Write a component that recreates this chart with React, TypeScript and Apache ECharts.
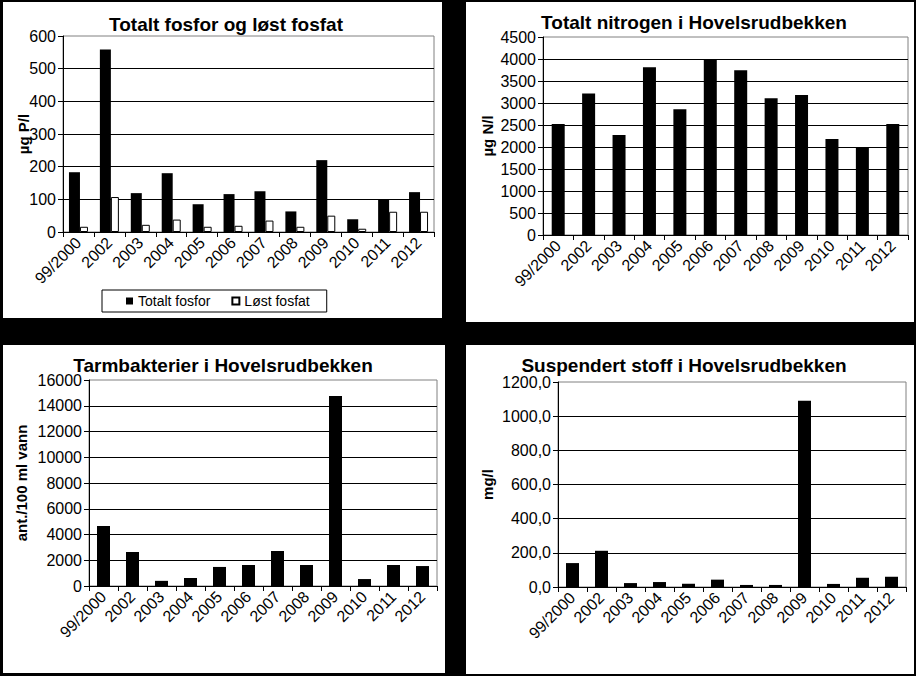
import React, { useEffect, useRef } from "react";
import * as echarts from "echarts";

// ---- data ----
const categories = ["99/2000", "2002", "2003", "2004", "2005", "2006", "2007", "2008", "2009", "2010", "2011", "2012"];
const totaltFosfor = [183, 559, 119, 180, 85, 116, 125, 63, 220, 39, 99, 122];
const loestFosfat = [16, 107, 22, 38, 16, 19, 35, 16, 50, 10, 62, 62];
const totaltNitrogen = [2520, 3215, 2270, 3810, 2860, 3990, 3745, 3110, 3180, 2180, 1990, 2520];
const tarmbakterier = [4660, 2640, 400, 620, 1480, 1630, 2720, 1630, 14750, 540, 1630, 1550];
const suspendertStoff = [140, 212, 23, 29, 19, 43, 12, 12, 1090, 18, 54, 60];

const titles = [
  "Totalt fosfor og løst fosfat",
  "Totalt nitrogen i Hovelsrudbekken",
  "Tarmbakterier i Hovelsrudbekken",
  "Suspendert stoff i Hovelsrudbekken",
];
const yNames = ["µg P/l", "µg N/l", "ant./100 ml vann", "mg/l"];
const yMax = [600, 4500, 16000, 1200];
const yStep = [100, 500, 2000, 200];
const legendNames = ["Totalt fosfor", "Løst fosfat"];

const FONT = "'Liberation Sans', Arial, sans-serif";

export default function App() {
  const ref = useRef<HTMLDivElement>(null);

  useEffect(() => {
    if (!ref.current) return;
    const chart = echarts.init(ref.current, undefined, { renderer: "svg" });

    const panels = [
      { x: 3, y: 2, w: 439, h: 316 },
      { x: 466, y: 2, w: 448, h: 320 },
      { x: 3, y: 345, w: 442, h: 328 },
      { x: 466, y: 345, w: 448, h: 329 },
    ];
    const grids = [
      { left: 63, top: 36, width: 371, height: 196 },
      { left: 543, top: 37, width: 365, height: 198 },
      { left: 89, top: 380, width: 348, height: 206 },
      { left: 558, top: 382, width: 348, height: 205 },
    ];
    const titlePos = [
      { x: 226, y: 15 },
      { x: 694, y: 13 },
      { x: 223, y: 356 },
      { x: 684, y: 356 },
    ];
    const nameGaps = [32, 48, 60, 63];

    const xAxes = grids.map((_, i) => ({
      type: "category",
      gridIndex: i,
      data: categories,
      axisLine: { lineStyle: { color: "#000", width: 1 } },
      axisTick: { show: true, length: 5, lineStyle: { color: "#000" } },
      axisLabel: { interval: 0, rotate: 45, fontSize: 16, color: "#000", fontFamily: FONT, margin: 8 },
      splitLine: { show: false },
    }));

    const yAxes = grids.map((_, i) => ({
      type: "value",
      gridIndex: i,
      min: 0,
      max: yMax[i],
      interval: yStep[i],
      name: yNames[i],
      nameLocation: "middle",
      nameRotate: 90,
      nameGap: nameGaps[i],
      nameMoveOverlap: false,
      nameTextStyle: { fontSize: 15, fontWeight: "bold", color: "#000", fontFamily: FONT },
      axisLine: { show: true, lineStyle: { color: "#000", width: 1 } },
      axisTick: { show: true, length: 5, lineStyle: { color: "#000" } },
      axisLabel: {
        fontSize: 16,
        color: "#000",
        fontFamily: FONT,
        margin: 7,
        formatter: i === 3 ? (v: number) => v.toFixed(1).replace(".", ",") : (v: number) => String(v),
      },
      splitLine: { show: true, showMinLine: false, showMaxLine: false, lineStyle: { color: "#000", width: 1 } },
    }));

    const option: any = {
      animation: false,
      backgroundColor: "#000",
      textStyle: { fontFamily: FONT },
      graphic: panels.map((p) => ({
        type: "rect",
        z: -10,
        silent: true,
        shape: { x: p.x, y: p.y, width: p.w, height: p.h },
        style: { fill: "#fff" },
      })),
      title: titles.map((t, i) => ({
        text: t,
        left: titlePos[i].x,
        top: titlePos[i].y,
        textAlign: "center",
        padding: 0,
        textStyle: { fontSize: 19, fontWeight: "bold", color: "#000", fontFamily: FONT },
      })),
      legend: {
        data: legendNames,
        left: 102,
        top: 290,
        orient: "horizontal",
        padding: [4, 17, 4, 24],
        itemGap: 21,
        itemWidth: 7,
        itemHeight: 7,
        icon: "rect",
        borderColor: "#000",
        borderWidth: 1,
        backgroundColor: "#fff",
        textStyle: { fontSize: 14, color: "#000", fontFamily: FONT },
      },
      grid: grids.map((g) => ({
        ...g,
        show: true,
        borderColor: "#808080",
        borderWidth: 1,
        backgroundColor: "#fff",
        containLabel: false,
      })),
      xAxis: xAxes,
      yAxis: yAxes,
      series: [
        {
          name: legendNames[0],
          type: "bar",
          xAxisIndex: 0,
          yAxisIndex: 0,
          data: totaltFosfor,
          barWidth: 11,
          barGap: "0%",
          itemStyle: { color: "#000" },
        },
        {
          name: legendNames[1],
          type: "bar",
          xAxisIndex: 0,
          yAxisIndex: 0,
          data: loestFosfat,
          barWidth: 8,
          barGap: "0%",
          itemStyle: { color: "#fff", borderColor: "#000", borderWidth: 1 },
        },
        {
          name: "Totalt nitrogen",
          type: "bar",
          xAxisIndex: 1,
          yAxisIndex: 1,
          data: totaltNitrogen,
          barWidth: 13,
          itemStyle: { color: "#000" },
        },
        {
          name: "Tarmbakterier",
          type: "bar",
          xAxisIndex: 2,
          yAxisIndex: 2,
          data: tarmbakterier,
          barWidth: 13,
          itemStyle: { color: "#000" },
        },
        {
          name: "Suspendert stoff",
          type: "bar",
          xAxisIndex: 3,
          yAxisIndex: 3,
          data: suspendertStoff,
          barWidth: 13,
          itemStyle: { color: "#000" },
        },
      ],
    };

    chart.setOption(option);
    return () => chart.dispose();
  }, []);

  return (
    <div
      ref={ref}
      style={{ position: "fixed", left: 0, top: 0, width: 916, height: 676 }}
    />
  );
}
